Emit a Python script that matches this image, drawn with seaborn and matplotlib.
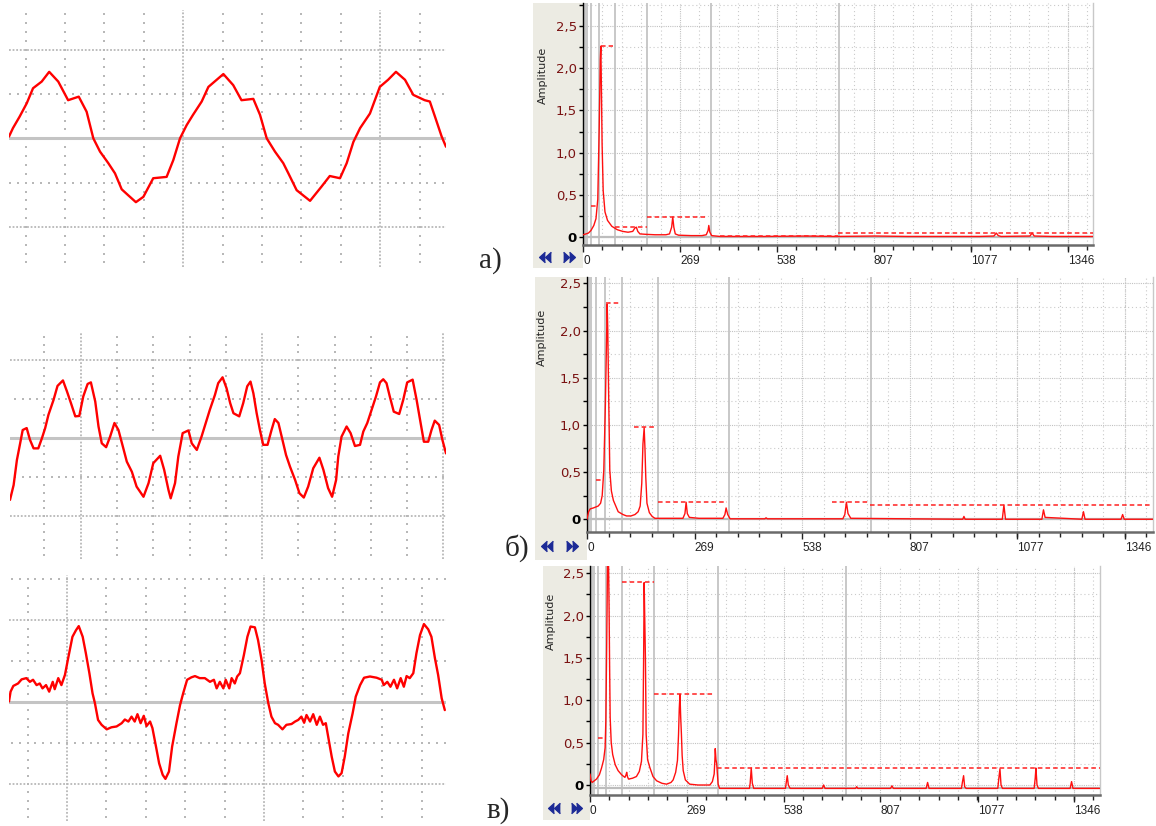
import numpy as np
import matplotlib.pyplot as plt
import seaborn as sns

sns.set_style("white")
plt.rcParams['font.family'] = ['DejaVu Sans']

# --- oscilloscope traces: time in horizontal grid divisions, level in vertical divisions ---
wave_a_t = [-0.42, -0.32, -0.15, 0.03, 0.19, 0.41, 0.60, 0.83, 1.08, 1.35,
            1.55, 1.72, 1.89, 2.10, 2.27, 2.44, 2.60, 2.80, 2.99, 3.24,
            3.58, 3.75, 3.92, 4.09, 4.25, 4.47, 4.64, 4.85, 5.02, 5.27,
            5.48, 5.78, 5.95, 6.12, 6.33, 6.54, 6.67, 6.88, 7.22, 7.51,
            7.72, 7.98, 8.15, 8.32, 8.49, 8.74, 8.99, 9.20, 9.40, 9.63,
            9.84, 10.13, 10.26, 10.39, 10.56, 10.67]
wave_a_v = [0.04, 0.23, 0.49, 0.79, 1.13, 1.28, 1.50, 1.28, 0.86, 0.94,
            0.60, 0.00, -0.30, -0.56, -0.79, -1.15, -1.28, -1.44, -1.32, -0.90,
            -0.87, -0.49, 0.00, 0.30, 0.53, 0.83, 1.16, 1.32, 1.45, 1.20,
            0.86, 0.89, 0.53, 0.00, -0.30, -0.56, -0.79, -1.17, -1.41, -1.09,
            -0.85, -0.90, -0.56, -0.08, 0.23, 0.56, 1.16, 1.32, 1.50, 1.32,
            0.98, 0.86, 0.83, 0.49, 0.04, -0.19]

wave_b_t = [-0.95, -0.85, -0.76, -0.67, -0.60, -0.49, -0.40, -0.30, -0.17, -0.07,
            0.02, 0.11, 0.25, 0.36, 0.51, 0.62, 0.73, 0.85, 0.96, 1.07,
            1.19, 1.28, 1.40, 1.49, 1.58, 1.70, 1.81, 1.93, 2.04, 2.16,
            2.27, 2.41, 2.54, 2.73, 2.87, 3.00, 3.19, 3.30, 3.42, 3.48,
            3.60, 3.69, 3.81, 3.97, 4.06, 4.20, 4.33, 4.43, 4.56, 4.70,
            4.79, 4.91, 5.02, 5.12, 5.21, 5.37, 5.48, 5.59, 5.68, 5.76,
            5.85, 5.94, 6.03, 6.15, 6.26, 6.35, 6.45, 6.54, 6.66, 6.77,
            6.91, 7.03, 7.15, 7.27, 7.41, 7.58, 7.69, 7.82, 7.93, 8.04,
            8.10, 8.19, 8.33, 8.44, 8.56, 8.70, 8.79, 8.90, 9.02, 9.14,
            9.25, 9.34, 9.43, 9.52, 9.63, 9.78, 9.89, 10.00, 10.15, 10.26,
            10.37, 10.46, 10.58, 10.67, 10.76, 10.88, 10.97, 11.07]
wave_b_v = [-1.58, -1.20, -0.56, -0.13, 0.21, 0.26, -0.04, -0.26, -0.26, 0.00,
            0.26, 0.60, 0.98, 1.34, 1.48, 1.20, 0.90, 0.56, 0.57, 1.07,
            1.39, 1.43, 0.94, 0.30, -0.13, -0.23, 0.04, 0.39, 0.21, -0.21,
            -0.60, -0.86, -1.24, -1.50, -1.15, -0.64, -0.45, -0.81, -1.33, -1.54,
            -1.15, -0.47, 0.13, 0.20, -0.13, -0.30, 0.04, 0.34, 0.73, 1.11,
            1.41, 1.56, 1.28, 0.90, 0.64, 0.56, 0.90, 1.33, 1.45, 1.15,
            0.64, 0.21, -0.17, -0.17, 0.21, 0.49, 0.39, 0.04, -0.43, -0.73,
            -1.07, -1.41, -1.52, -1.24, -0.77, -0.50, -0.81, -1.28, -1.50, -1.07,
            -0.47, 0.04, 0.30, 0.13, -0.20, -0.17, 0.17, 0.39, 0.73, 1.07,
            1.43, 1.51, 1.41, 1.07, 0.68, 0.62, 0.98, 1.43, 1.50, 0.98,
            0.39, -0.09, -0.09, 0.21, 0.45, 0.34, -0.04, -0.39]

wave_c_t = [-0.47, -0.43, -0.36, -0.24, -0.15, -0.03, 0.06, 0.14, 0.23, 0.31,
            0.38, 0.47, 0.55, 0.64, 0.69, 0.78, 0.86, 0.95, 1.03, 1.14,
            1.23, 1.30, 1.40, 1.48, 1.57, 1.65, 1.71, 1.79, 1.88, 2.01,
            2.13, 2.26, 2.39, 2.47, 2.56, 2.64, 2.72, 2.79, 2.87, 2.95,
            3.02, 3.11, 3.17, 3.26, 3.34, 3.43, 3.50, 3.59, 3.67, 3.78,
            3.87, 3.95, 4.05, 4.16, 4.25, 4.37, 4.50, 4.63, 4.73, 4.80,
            4.88, 4.97, 5.03, 5.12, 5.18, 5.26, 5.32, 5.39, 5.49, 5.58,
            5.66, 5.77, 5.85, 5.94, 6.02, 6.11, 6.19, 6.28, 6.36, 6.47,
            6.57, 6.70, 6.79, 6.87, 6.95, 7.02, 7.08, 7.17, 7.25, 7.34,
            7.42, 7.50, 7.57, 7.63, 7.72, 7.80, 7.89, 7.97, 8.05, 8.14,
            8.25, 8.33, 8.44, 8.54, 8.69, 8.86, 8.99, 9.04, 9.13, 9.21,
            9.30, 9.38, 9.47, 9.55, 9.62, 9.70, 9.79, 9.87, 9.96, 10.06,
            10.17, 10.25, 10.34, 10.42, 10.51, 10.59]
wave_c_v = [0.02, 0.26, 0.40, 0.46, 0.56, 0.59, 0.50, 0.55, 0.42, 0.46,
            0.34, 0.42, 0.26, 0.50, 0.32, 0.59, 0.42, 0.67, 1.07, 1.60,
            1.76, 1.86, 1.60, 1.20, 0.71, 0.22, -0.02, -0.43, -0.55, -0.66,
            -0.61, -0.59, -0.51, -0.42, -0.47, -0.35, -0.47, -0.29, -0.51, -0.33,
            -0.58, -0.47, -0.63, -1.08, -1.49, -1.77, -1.87, -1.69, -1.08, -0.51,
            -0.07, 0.22, 0.55, 0.61, 0.64, 0.59, 0.59, 0.50, 0.55, 0.34,
            0.50, 0.34, 0.55, 0.34, 0.59, 0.46, 0.63, 0.71, 1.15, 1.60,
            1.85, 1.83, 1.52, 1.03, 0.46, -0.02, -0.35, -0.51, -0.55, -0.66,
            -0.55, -0.53, -0.47, -0.43, -0.35, -0.50, -0.31, -0.47, -0.29, -0.55,
            -0.35, -0.55, -0.51, -0.84, -1.33, -1.69, -1.81, -1.73, -1.33, -0.76,
            -0.27, 0.14, 0.42, 0.60, 0.63, 0.60, 0.55, 0.42, 0.50, 0.38,
            0.55, 0.34, 0.59, 0.38, 0.64, 0.59, 0.71, 1.20, 1.64, 1.91,
            1.78, 1.60, 1.07, 0.67, 0.10, -0.19]

# --- spectra: frequency (Hz) and amplitude ---
spec_a_f = [0, 8, 15, 22, 30, 36, 41, 45, 48, 49.5,
            51, 53, 56, 61, 68, 80, 95, 110, 125, 138,
            144, 148, 152, 158, 175, 200, 230, 240, 246, 249,
            252, 256, 265, 300, 330, 342, 347, 349, 352, 357,
            380, 500, 620, 700, 810, 900, 1000, 1100, 1140, 1147,
            1152, 1160, 1240, 1246, 1252, 1300, 1416]
spec_a_amp = [0.03, 0.04, 0.05, 0.08, 0.14, 0.22, 0.45, 1.30, 2.10, 2.26,
              1.80, 1.10, 0.55, 0.30, 0.20, 0.13, 0.09, 0.07, 0.06, 0.07,
              0.11, 0.12, 0.07, 0.04, 0.035, 0.03, 0.03, 0.04, 0.12, 0.24,
              0.12, 0.04, 0.025, 0.02, 0.02, 0.03, 0.08, 0.14, 0.06, 0.02,
              0.01, 0.01, 0.015, 0.01, 0.015, 0.01, 0.01, 0.01, 0.015, 0.05,
              0.02, 0.01, 0.015, 0.05, 0.015, 0.01, 0.01]

spec_b_f = [0, 4, 8, 16, 28, 34, 38, 42, 46, 49,
            50.5, 52, 54, 57, 61, 66, 78, 90, 99, 110,
            120, 128, 133, 137, 140, 143, 145, 147, 150, 156,
            163, 170, 240, 245, 248, 251, 256, 280, 340, 345,
            348, 352, 358, 445, 448, 451, 640, 645, 649, 653,
            660, 940, 943, 946, 1039, 1043, 1047, 1138, 1142, 1146,
            1238, 1242, 1246, 1336, 1340, 1344, 1416]
spec_b_amp = [0.0, 0.08, 0.11, 0.12, 0.14, 0.17, 0.25, 0.52, 1.22, 1.93,
              2.28, 2.00, 1.37, 0.52, 0.30, 0.20, 0.08, 0.05, 0.035, 0.035,
              0.05, 0.08, 0.14, 0.38, 0.80, 0.97, 0.75, 0.45, 0.17, 0.07,
              0.03, 0.01, 0.01, 0.06, 0.18, 0.06, 0.02, 0.01, 0.01, 0.05,
              0.12, 0.05, 0.005, 0.005, 0.015, 0.005, 0.005, 0.05, 0.18, 0.06,
              0.01, 0.0, 0.03, 0.0, 0.0, 0.15, 0.0, 0.0, 0.10, 0.02,
              0.0, 0.08, 0.0, 0.0, 0.05, 0.0, 0.0]

spec_c_f = [0, 3, 6, 12, 18, 26, 32, 38, 42, 44,
            46, 47.5, 49, 51, 53, 54.5, 56, 59, 63, 70,
            78, 88, 97, 100, 102, 104, 107, 118, 129, 137,
            143, 147, 149, 150.5, 152, 154, 156, 160, 166, 175,
            185, 200, 213, 225, 231, 238, 243, 246, 248, 250,
            252, 254, 256, 259, 265, 277, 300, 333, 340, 345,
            347, 348, 350, 352, 356, 360, 443, 445, 448, 451,
            455, 543, 545, 548, 551, 556, 645, 649, 653, 738,
            741, 744, 835, 839, 843, 934, 938, 942, 1032, 1035,
            1038, 1041, 1045, 1133, 1136, 1139, 1142, 1146, 1234, 1237,
            1239, 1242, 1246, 1334, 1338, 1342, 1416]
spec_c_amp = [0.13, 0.05, 0.03, 0.05, 0.07, 0.12, 0.20, 0.30, 0.44, 0.76,
              1.50, 2.10, 2.80, 2.80, 2.10, 1.40, 0.80, 0.50, 0.36, 0.24,
              0.17, 0.12, 0.09, 0.12, 0.15, 0.10, 0.07, 0.08, 0.10, 0.16,
              0.28, 0.60, 1.50, 2.39, 2.00, 1.50, 0.60, 0.30, 0.21, 0.10,
              0.05, 0.02, 0.01, 0.03, 0.06, 0.15, 0.29, 0.60, 0.90, 1.07,
              0.80, 0.60, 0.35, 0.17, 0.06, 0.01, 0.0, 0.0, 0.04, 0.13,
              0.30, 0.43, 0.30, 0.25, 0.01, -0.04, -0.04, 0.02, 0.20, 0.02,
              -0.04, -0.04, 0.02, 0.11, 0.0, -0.04, -0.04, 0.0, -0.04, -0.04,
              -0.02, -0.04, -0.04, -0.01, -0.04, -0.04, 0.03, -0.04, -0.04, 0.04,
              0.11, -0.02, -0.04, -0.04, 0.08, 0.19, 0.0, -0.04, -0.04, 0.08,
              0.20, 0.0, -0.04, -0.04, 0.04, -0.04, -0.04]

# band peak markers (dashed): from Hz, to Hz, level
band_a_lo = [22, 49, 89, 177, 380, 707]
band_a_hi = [42, 83, 177, 347, 707, 1416]
band_a_lvl = [0.37, 2.26, 0.125, 0.24, 0.02, 0.047]
band_b_lo = [22, 47, 117, 177, 612, 707]
band_b_hi = [42, 83, 169, 349, 707, 1408]
band_b_lvl = [0.42, 2.29, 0.98, 0.18, 0.18, 0.15]
band_c_lo = [22, 89, 177, 352]
band_c_hi = [42, 177, 347, 1416]
band_c_lvl = [0.55, 2.40, 1.07, 0.20]

octave_edges = [5.5, 11, 22, 44, 88, 177, 355, 710]
freq_ticks = [0, 269, 538, 807, 1077, 1346]
amp_ticks = [0, 0.5, 1.0, 1.5, 2.0, 2.5]
amp_tick_labels = ["0", "0,5", "1,0", "1,5", "2,0", "2,5"]
panel_labels = ["а)", "б)", "в)"]

W, H = 1156, 826
fig = plt.figure(figsize=(W / 100, H / 100), dpi=100)

dot_c = '#B8B8B8'
strip_c = '#ECEBE3'
navy = '#1C2A96'


def box(x0, y0, x1, y1):
    return fig.add_axes([x0 / W, 1 - y1 / H, (x1 - x0) / W, (y1 - y0) / H])


def scope(px, xlim, ylim, ncols, majors, rows, sparse, t, v):
    ax = box(*px)
    ax.set_xlim(*xlim)
    ax.set_ylim(*ylim)
    ax.axis('off')
    ys = np.arange(rows[0], rows[1] + 0.001, 0.2)
    for c in range(ncols + 1):
        if c in majors:
            ax.plot([c, c], [rows[0] - 0.1, rows[1] + 0.1], color=dot_c, lw=1.3, ls=(0, (1, 1)))
        else:
            ax.plot(np.full(len(ys), c), ys, ls='none', marker='s', ms=1.5, mew=0, color=dot_c)
    xs = np.arange(np.ceil(xlim[0] / 0.2) * 0.2, xlim[1], 0.2)
    for lvl in sparse:
        ax.plot(xs, np.full(len(xs), lvl), ls='none', marker='s', ms=1.5, mew=0, color=dot_c)
    for lvl in (-2, 2):
        ax.plot(xlim, [lvl, lvl], color=dot_c, lw=1.3, ls=(0, (1, 1)))
    ax.axhline(0, color='#C4C4C4', lw=2.2)
    sns.lineplot(x=t, y=v, ax=ax, color='#FF0000', lw=1.7, estimator=None, sort=False)


scope((9, 0, 446, 270), (-0.42, 10.67), (-2.97, 3.12), 10, (4, 9), (-2.8, 2.8), (-1, 1),
      wave_a_t, wave_a_v)
scope((10, 325, 446, 560), (-0.95, 11.07), (-3.12, 2.9), 11, (1, 6, 11), (-3.0, 2.6), (-1, 1),
      wave_b_t, wave_b_v)
scope((9, 570, 446, 826), (-0.47, 10.62), (-3.02, 3.23), 10, (1, 6), (-2.8, 3.0), (-1, 1, 3),
      wave_c_t, wave_c_v)

left_tri = [(0.55, 1), (-0.55, 0), (0.55, -1)]
right_tri = [(-0.55, 1), (0.55, 0), (-0.55, -1)]
freq_axes = []


def spectrum(strip, nav, main, xmax, ylim, f, amp, lo, hi, lvl, zero, amp_xy, label, label_xy):
    st = box(*strip)
    nv = box(*nav)
    for a in (st, nv):
        a.set_facecolor(strip_c)
        a.set_xticks([])
        a.set_yticks([])
        for s in a.spines.values():
            s.set_visible(False)
    nv.set_xlim(0, 1)
    nv.set_ylim(0, 1)
    nv.plot([0.17, 0.29], [0.5, 0.5], ls='none', marker=left_tri, ms=7.5, color=navy)
    nv.plot([0.65, 0.77], [0.5, 0.5], ls='none', marker=right_tri, ms=7.5, color=navy)
    fig.text(amp_xy[0] / W, 1 - amp_xy[1] / H, 'Amplitude', rotation=90,
             ha='center', va='center', fontsize=8)
    fig.text(label_xy[0] / W, 1 - label_xy[1] / H, label, fontsize=21,
             family=['Liberation Serif', 'DejaVu Serif'], ha='center', va='center')

    ax = box(*main)
    ax.set_facecolor('white')
    ax.set_xlim(0, xmax)
    ax.set_ylim(*ylim)
    ax.set_xticks(freq_ticks)
    ax.set_xticks(np.arange(0, xmax, 269 / 5), minor=True)
    ax.set_xticklabels([str(v) for v in freq_ticks], fontsize=10, fontstretch='condensed',
                       family=['DejaVu Sans Condensed', 'Liberation Sans Narrow', 'DejaVu Sans'],
                       ha='left', color='#222222')
    ax.set_yticks(amp_ticks)
    ax.set_yticks(np.arange(0, ylim[1], 0.25), minor=True)
    ax.set_yticklabels(amp_tick_labels, fontsize=9.5)
    for lab, v in zip(ax.get_yticklabels(), amp_ticks):
        if v == 0:
            lab.set_color('black')
            lab.set_fontweight('bold')
        else:
            lab.set_color('#7A1212')
    ax.tick_params(axis='both', which='both', bottom=True, left=True, top=False, right=False,
                   direction='out')
    ax.tick_params(axis='x', which='major', length=5, width=1, color='#222222', pad=2)
    ax.tick_params(axis='x', which='minor', length=3.5, width=1, color='#222222')
    ax.tick_params(axis='y', which='both', length=3, width=1, color='black', pad=1.5)
    ax.grid(which='major', color='#C2C2C2', lw=0.8, ls=(0, (1, 1)))
    ax.grid(which='minor', color='#CACACA', lw=0.8, ls=(0, (1, 2.5)))
    for e in octave_edges:
        ax.axvline(e, color='#C4C4C4', lw=1.3, zorder=1)
    ax.axhline(zero, color='#BDBDBD', lw=1.6, zorder=1.5)
    sns.lineplot(x=f, y=amp, ax=ax, color='#FF1010', lw=1.0, estimator=None, sort=False, zorder=3)
    ax.hlines(lvl, lo, hi, colors='#FF2020', lw=1.1, linestyles=(0, (3, 2)), zorder=3)
    ax.set_xlabel('')
    ax.set_ylabel('')
    ax.spines['top'].set_visible(False)
    ax.spines['right'].set_color('#C8C8C8')
    ax.spines['right'].set_linewidth(1)
    ax.spines['left'].set_color('black')
    ax.spines['left'].set_linewidth(1)
    ax.spines['bottom'].set_color('#6A6A6A')
    ax.spines['bottom'].set_linewidth(1.8)
    freq_axes.append(ax)


spectrum((533, 3, 583, 245), (533, 245, 583, 268), (583, 3, 1093, 245), 1415, (-0.091, 2.77),
         spec_a_f, spec_a_amp, band_a_lo, band_a_hi, band_a_lvl, 0, (543, 75),
         panel_labels[0], (490, 261))
spectrum((535, 277, 587, 532), (535, 532, 587, 560), (587, 277, 1153, 532), 1416, (-0.135, 2.567),
         spec_b_f, spec_b_amp, band_b_lo, band_b_hi, band_b_lvl, 0, (542, 337),
         panel_labels[1], (517, 548))
spectrum((543, 566, 590, 795), (543, 795, 590, 820), (590, 566, 1100, 795), 1417, (-0.118, 2.586),
         spec_c_f, spec_c_amp, band_c_lo, band_c_hi, band_c_lvl, -0.04, (551, 621),
         panel_labels[2], (498, 811))

# the frequency labels are narrow in the original; fall back to a smaller face if no condensed one
fig.canvas.draw()
lab = freq_axes[1].get_xticklabels()[-1]
if lab.get_window_extent().x1 > W - 2:
    for ax in freq_axes:
        for lab in ax.get_xticklabels():
            lab.set_family(['Liberation Sans', 'DejaVu Sans'])
            lab.set_stretch('normal')
            lab.set_fontsize(8.5)

fig.savefig("out.png", dpi=100)
